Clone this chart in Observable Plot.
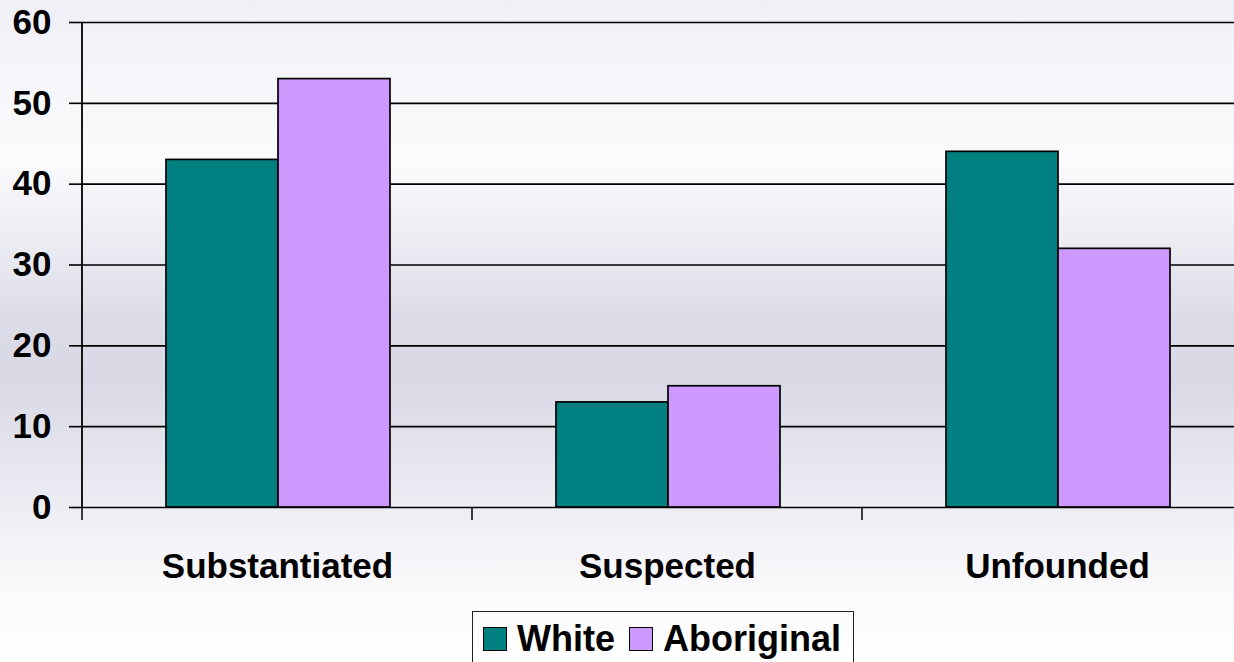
<!DOCTYPE html>
<html>
<head>
<meta charset="utf-8">
<script src="https://cdn.jsdelivr.net/npm/d3@7"></script>
<script src="https://cdn.jsdelivr.net/npm/@observablehq/plot@0.6"></script>
<style>
  html, body { margin: 0; padding: 0; }
  #wrap {
    position: relative; width: 1234px; height: 662px; overflow: hidden;
    font-family: "Liberation Sans", Arial, sans-serif; font-weight: bold;
    background: linear-gradient(to bottom,
      #efeff6 0px, #f6f6fa 80px, #fbfbfd 160px, #ececf3 240px,
      #dcdce8 320px, #d9d9e6 380px, #e4e4ee 450px, #efeff5 520px,
      #fafafc 590px, #ffffff 662px);
  }
  #legend {
    position: absolute; left: 472px; top: 611px; width: 382px; height: 70px;
    border: 1.5px solid #222; box-sizing: border-box;
    display: flex; align-items: flex-start; padding: 7px 0 0 10px;
    font-size: 36px; line-height: 40px; color: #000;
  }
  #legend .item { display: flex; align-items: center; margin-right: 14px; }
  #legend .sw { width: 22px; height: 22px; border: 1.5px solid #000; margin-right: 10px; }
</style>
</head>
<body>
<div id="wrap"></div>
<script>
const categories = ["Substantiated", "Suspected", "Unfounded"];
const seriesNames = ["White", "Aboriginal"];
const whiteValues = [43, 13, 44];
const aboriginalValues = [53, 15, 32];
const yTicks = [0, 10, 20, 30, 40, 50, 60];
const seriesColors = ["#008080", "#cc99ff"];

const data = [];
categories.forEach((c, i) => {
  data.push({category: c, series: "White", value: whiteValues[i]});
  data.push({category: c, series: "Aboriginal", value: aboriginalValues[i]});
});

const W = 1234, H = 605;

function axisLines(index, scales) {
  const x = scales.x, y = scales.y;
  const bw = x(categories[1]) - x(categories[0]);
  const xs = categories.map(c => x(c));
  xs.push(x(categories[categories.length - 1]) + bw);
  const y0 = y(0);
  const g = d3.create("svg:g");
  g.append("line")
    .attr("x1", xs[0]).attr("x2", xs[0])
    .attr("y1", y(60)).attr("y2", y0)
    .attr("stroke", "#000").attr("stroke-width", 1.8);
  for (const px of xs) {
    g.append("line")
      .attr("x1", px).attr("x2", px)
      .attr("y1", y0).attr("y2", y0 + 13)
      .attr("stroke", "#000").attr("stroke-width", 1.5);
  }
  return g.node();
}

const chart = Plot.plot({
  width: W,
  height: H,
  marginLeft: 82,
  marginRight: 0,
  marginTop: 22,
  marginBottom: H - 507,
  style: {
    background: "transparent",
    fontFamily: "'Liberation Sans', Arial, sans-serif",
    fontSize: "35px",
    fontWeight: "bold",
    color: "#000",
    overflow: "visible"
  },
  x: {type: "band", domain: categories, range: [82, 1252], padding: 0, label: null},
  y: {domain: [0, 60], range: [507, 22], label: null},
  color: {domain: seriesNames, range: seriesColors},
  marks: [
    Plot.ruleY(yTicks, {y: d => d, stroke: "#000", strokeWidth: 1.6}),
    Plot.barY(data.filter(d => d.series === "White"), {
      x: "category", y: "value", fill: {value: "series", scale: "color"},
      insetLeft: 84, insetRight: 194, stroke: "#000", strokeWidth: 1.7
    }),
    Plot.barY(data.filter(d => d.series === "Aboriginal"), {
      x: "category", y: "value", fill: {value: "series", scale: "color"},
      insetLeft: 196, insetRight: 82, stroke: "#000", strokeWidth: 1.7
    }),
    Plot.axisY({ticks: yTicks, tickSize: 13, tickPadding: 18, tickFormat: d => String(d), label: null, strokeWidth: 1.6, stroke: "#000", strokeOpacity: 1}),
    Plot.axisX({tickSize: 0, tickPadding: 46, label: null}),
    axisLines
  ]
});

const wrap = document.getElementById("wrap");
wrap.appendChild(chart);

const legend = document.createElement("div");
legend.id = "legend";
seriesNames.forEach((name, i) => {
  const item = document.createElement("div");
  item.className = "item";
  const sw = document.createElement("div");
  sw.className = "sw";
  sw.style.background = seriesColors[i];
  const t = document.createElement("span");
  t.textContent = name;
  item.appendChild(sw);
  item.appendChild(t);
  legend.appendChild(item);
});
wrap.appendChild(legend);
</script>
</body>
</html>
